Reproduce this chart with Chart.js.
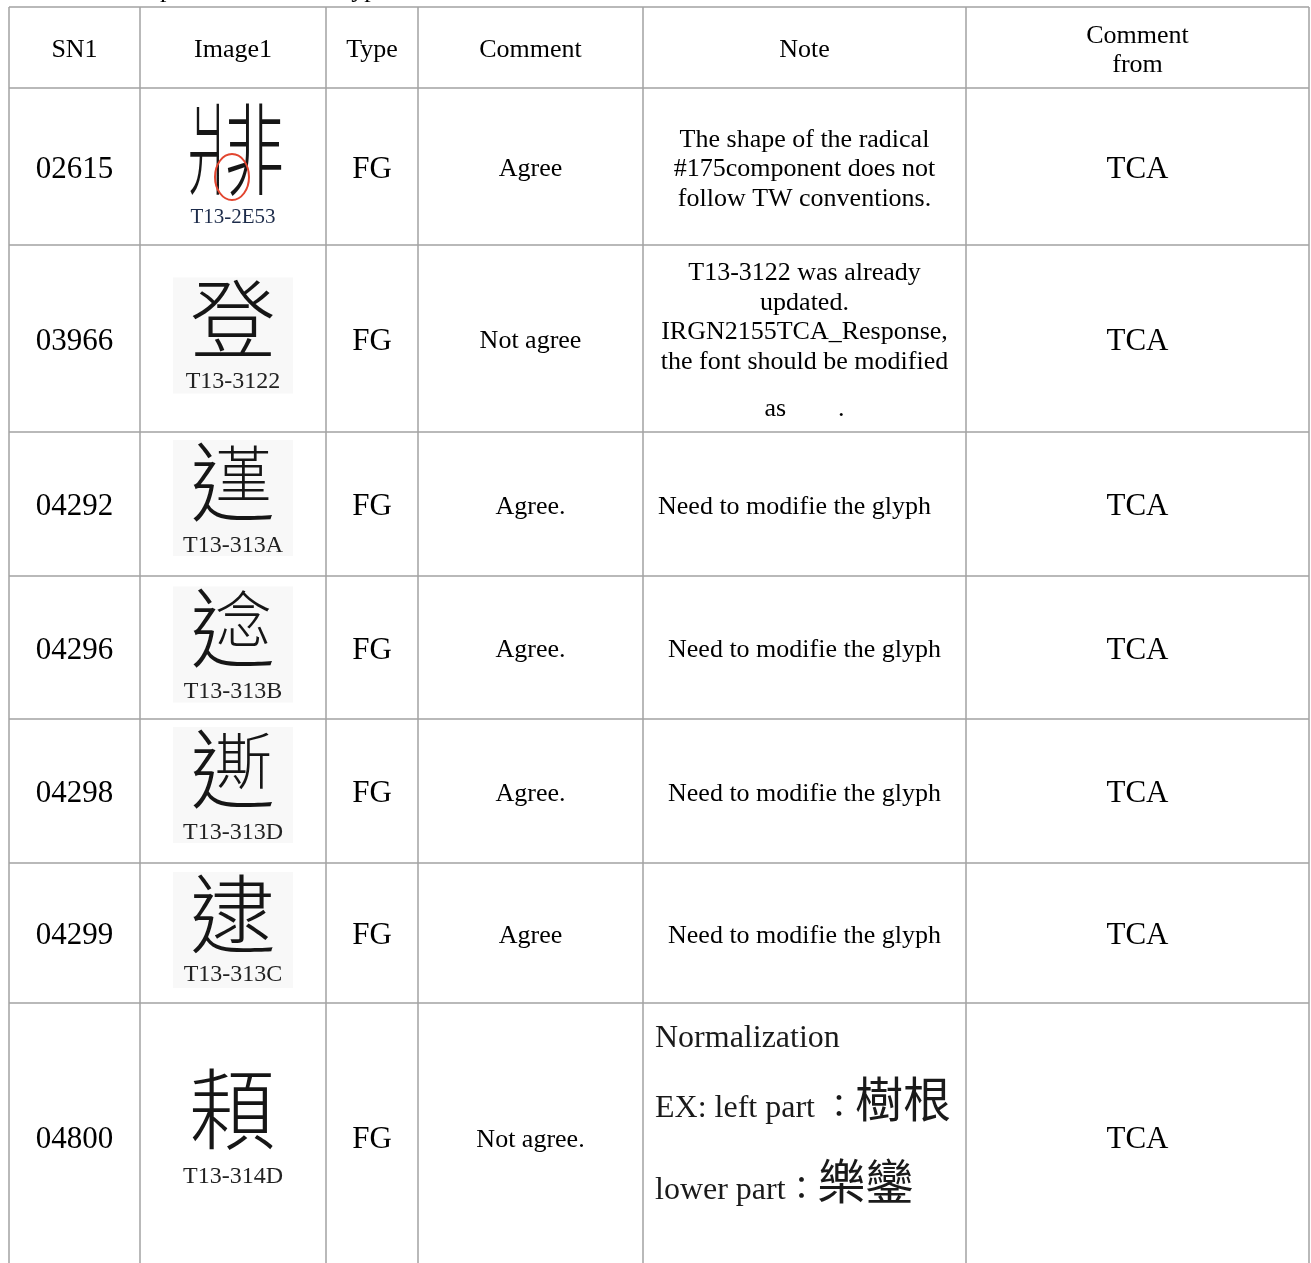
<!DOCTYPE html>
<html>
<head>
<meta charset="utf-8">
<script src="https://cdn.jsdelivr.net/npm/chart.js@4.4.1/dist/chart.umd.min.js"></script>
<style>
  html, body { margin: 0; padding: 0; background: #fff; }
  #wrap { width: 1311px; height: 1263px; }
</style>
</head>
<body>
<div id="wrap"><canvas id="tbl" width="1311" height="1263"></canvas></div>
<script>
// table content
const headers = ["SN1", "Image1", "Type", "Comment", "Note", "Comment\nfrom"];
const snList = ["02615", "03966", "04292", "04296", "04298", "04299", "04800"];
// "a|b" = side by side components, "a+b" = a wrapping b (辶 + inner part)
const glyphChars = ["爿|非", "登", "辶+堇", "辶+念", "辶+斯", "逮", "頛"];
const glyphCodes = ["T13-2E53", "T13-3122", "T13-313A", "T13-313B", "T13-313D", "T13-313C", "T13-314D"];
const types = ["FG", "FG", "FG", "FG", "FG", "FG", "FG"];
const comments = ["Agree", "Not agree", "Agree.", "Agree.", "Agree.", "Agree", "Not agree."];
const notes = [
  ["The shape of the radical", "#175component does not", "follow TW conventions."],
  ["T13-3122 was already", "updated.", "IRGN2155TCA_Response,", "the font should be modified", "as        ."],
  ["Need to modifie the glyph"],
  ["Need to modifie the glyph"],
  ["Need to modifie the glyph"],
  ["Need to modifie the glyph"],
  ["Normalization", "EX: left part ：樹根", "lower part：樂鑾"]
];
const commentFrom = ["TCA", "TCA", "TCA", "TCA", "TCA", "TCA", "TCA"];
const captionText = "Responses to TCA's Type FG";

// layout (pixel units on the hidden linear scales)
const colEdges = [9, 140, 326, 418, 643, 966, 1309];
const rowEdges = [7, 88, 245, 432, 576, 719, 863, 1003, 1271];
const glyphDy = [-18, -19, -22, -19, -22, -19, -28];
const labelDy = [48, 40, 39, 41, 39, 39, 37];
const glyphSize = [100, 86, 86, 86, 86, 86, 88];
const noteDx = [0, 0, -10, 0, 0, 0, 0];
const noteGapBefore = { 1: { 4: 18 } };
const lastNote = { x: 655, baselines: [1047, 1117, 1199] };
const MID = 3; // nudge for middle-baseline text

const SERIF = '"Liberation Serif", "Times New Roman", serif';
const CJK = '"Noto Sans CJK TC", "Noto Sans CJK SC", sans-serif';
const LINE = "#a3a3a3";

function put(ctx, s, x, y, font, color, align, base) {
  ctx.font = font;
  ctx.fillStyle = color || "#000";
  ctx.textAlign = align || "center";
  ctx.textBaseline = base || "middle";
  ctx.fillText(s, x, base ? y : y + MID);
}

// mixed latin / cjk line, left aligned on a baseline
function putMixed(ctx, s, x, y) {
  const runs = s.match(/[\u4e00-\u9fff]+|[\uff00-\uffef]+|[^\u4e00-\u9fff\uff00-\uffef]+/g) || [];
  runs.forEach(r => {
    let font = "32px " + SERIF;
    if (/[\u4e00-\u9fff]/.test(r)) font = "48px " + CJK;
    else if (/[\uff00-\uffef]/.test(r)) font = "32px " + CJK;
    ctx.font = font;
    ctx.fillStyle = "#1a1a1a";
    ctx.textAlign = "left";
    ctx.textBaseline = "alphabetic";
    ctx.fillText(r, x, y);
    x += ctx.measureText(r).width;
  });
}

function drawGlyph(ctx, g, x, y, size) {
  ctx.fillStyle = "#161616";
  ctx.textAlign = "center";
  ctx.textBaseline = "middle";
  ctx.font = "300 " + size + "px " + CJK;
  if (g.includes("|")) {
    const [a, b] = g.split("|");
    ctx.save(); ctx.translate(x - 25, y); ctx.scale(0.48, 1); ctx.fillText(a, 0, 0); ctx.restore();
    ctx.save(); ctx.translate(x + 21, y); ctx.scale(0.6, 1); ctx.fillText(b, 0, 0); ctx.restore();
  } else if (g.includes("+")) {
    const [outer, inner] = g.split("+");
    ctx.fillText(outer, x, y);
    ctx.save();
    ctx.translate(x + size * 0.12, y - size * 0.1);
    ctx.scale(0.66, 0.72);
    ctx.fillText(inner, 0, 0);
    ctx.restore();
  } else {
    ctx.fillText(g, x, y);
  }
}

const tablePlugin = {
  id: "tablePlugin",
  afterDraw(chart) {
    const ctx = chart.ctx;
    const sx = chart.scales.x, sy = chart.scales.y;
    const X = v => sx.getPixelForValue(v);
    const Y = v => sy.getPixelForValue(v);
    const colMid = i => (X(colEdges[i]) + X(colEdges[i + 1])) / 2;
    const rowMid = i => (Y(rowEdges[i]) + Y(rowEdges[i + 1])) / 2;

    ctx.save();

    // caption line above, mostly cut off by the top edge
    ctx.font = "26px " + SERIF;
    const pre = ctx.measureText("Res").width;
    put(ctx, captionText, X(160) - pre, Y(-3), "26px " + SERIF, "#000", "left", "alphabetic");

    // header row
    headers.forEach((h, c) => {
      const lines = h.split("\n");
      const lh = 29;
      const y0 = rowMid(0) - (lines.length - 1) * lh / 2;
      lines.forEach((l, k) => put(ctx, l, colMid(c), y0 + k * lh, "26px " + SERIF));
    });

    // body rows
    snList.forEach((sn, i) => {
      const r = i + 1;
      const cy = rowMid(r);
      put(ctx, sn, colMid(0), cy, "31px " + SERIF);
      put(ctx, types[i], colMid(2), cy, "31px " + SERIF);
      put(ctx, comments[i], colMid(3), cy, "26px " + SERIF);
      put(ctx, commentFrom[i], colMid(5), cy, "31px " + SERIF);

      // glyph picture
      const gx = colMid(1), gy = cy + glyphDy[i];
      if (i > 0 && i < 6) {
        ctx.fillStyle = "#f8f8f8";
        ctx.fillRect(gx - 60, gy - 42, 120, 116);
      }
      drawGlyph(ctx, glyphChars[i], gx, gy, glyphSize[i]);
      if (i === 0) {
        ctx.strokeStyle = "#e2452f";
        ctx.lineWidth = 2;
        ctx.beginPath();
        ctx.ellipse(X(232), Y(177), 17, 23, 0, 0, Math.PI * 2);
        ctx.stroke();
      }
      const labColor = i === 0 ? "#1c2b4a" : "#222";
      const labFont = i === 0 ? "21px " + SERIF : "24px " + SERIF;
      put(ctx, glyphCodes[i], gx, cy + labelDy[i], labFont, labColor);

      // note
      const nl = notes[i];
      if (i === 6) {
        nl.forEach((l, k) => putMixed(ctx, l, X(lastNote.x), Y(lastNote.baselines[k])));
      } else {
        const lh = 29.5;
        const gaps = noteGapBefore[i] || {};
        let total = (nl.length - 1) * lh;
        Object.values(gaps).forEach(v => total += v);
        let y = cy - total / 2;
        nl.forEach((l, k) => {
          if (gaps[k]) y += gaps[k];
          put(ctx, l, colMid(4) + noteDx[i], y, "26px " + SERIF);
          y += lh;
        });
      }
    });

    // grid lines
    ctx.strokeStyle = LINE;
    ctx.lineWidth = 1.5;
    ctx.beginPath();
    colEdges.forEach(c => {
      ctx.moveTo(X(c), Y(rowEdges[0]));
      ctx.lineTo(X(c), Y(rowEdges[rowEdges.length - 1]));
    });
    rowEdges.forEach(r => {
      ctx.moveTo(X(colEdges[0]), Y(r));
      ctx.lineTo(X(colEdges[colEdges.length - 1]), Y(r));
    });
    ctx.stroke();
    ctx.restore();
  }
};

new Chart(document.getElementById("tbl").getContext("2d"), {
  type: "scatter",
  data: { datasets: [{ data: [], pointRadius: 0 }] },
  options: {
    responsive: false,
    animation: false,
    layout: { padding: 0 },
    plugins: { legend: { display: false }, tooltip: { enabled: false } },
    scales: {
      x: { type: "linear", min: 0, max: 1311, display: false },
      y: { type: "linear", min: 0, max: 1263, reverse: true, display: false }
    }
  },
  plugins: [tablePlugin]
});
</script>
</body>
</html>
